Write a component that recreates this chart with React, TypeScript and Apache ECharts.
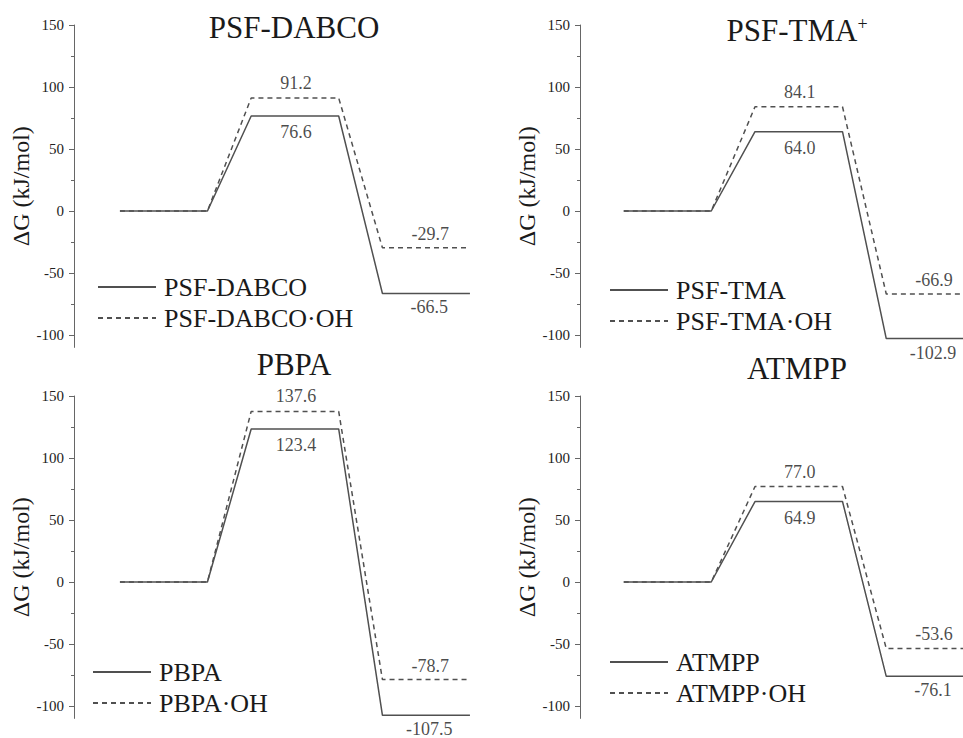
import React, { useEffect, useRef } from "react";
import * as echarts from "echarts";

// ---------- data ----------
const panelTitles = ["PSF-DABCO", "PSF-TMA{sup|+}", "PBPA", "ATMPP"];
const baseNames = ["PSF-DABCO", "PSF-TMA", "PBPA", "ATMPP"];
const ohNames = ["PSF-DABCO·OH", "PSF-TMA·OH", "PBPA·OH", "ATMPP·OH"];
const reactantLevel = [0, 0, 0, 0];
const baseTS = [76.6, 64.0, 123.4, 64.9];
const baseProduct = [-66.5, -102.9, -107.5, -76.1];
const ohTS = [91.2, 84.1, 137.6, 77.0];
const ohProduct = [-29.7, -66.9, -78.7, -53.6];
// reaction-coordinate positions of the level ends: reactant [0,2], TS [3,5], product [6,8]
const stepX = [0, 2, 3, 5, 6, 8];
const levelCentre = [4, 7];
const majorTicks = [-100, -50, 0, 50, 100, 150];
const minorTicks = [-75, -25, 25, 75, 125];
const yMin = -110;
const yMax = 150;

// ---------- layout ----------
const FONT = "Liberation Serif";
const PX_PER_UNIT = 43.75;
const PLOT_H = 322.4;
const layout = [
  { left: 74, top: 25, xMin: -1.05, xMax: 8.2, titleX: 294, titleY: 12, legLeft: 97, legTop: 274 },
  { left: 580, top: 25, xMin: -1.0, xMax: 7.754, titleX: 797, titleY: 15, legLeft: 609, legTop: 277 },
  { left: 74, top: 396, xMin: -1.05, xMax: 8.2, titleX: 294, titleY: 349, legLeft: 92, legTop: 659 },
  { left: 580, top: 396, xMin: -1.0, xMax: 7.754, titleX: 797, titleY: 353, legLeft: 609, legTop: 649 },
];
const LINE_COLOR = "#505050";
const AXIS_COLOR = "#666";
const TEXT_COLOR = "#1a1a1a";

function levels(r: number, ts: number, p: number) {
  const v = [r, r, ts, ts, p, p];
  return stepX.map((x, i) => [x, v[i]]);
}

function buildOption() {
  const grid: any[] = [];
  const xAxis: any[] = [];
  const yAxis: any[] = [];
  const series: any[] = [];
  const title: any[] = [];
  const legend: any[] = [];

  layout.forEach((l, p) => {
    grid.push({
      left: l.left,
      top: l.top,
      width: (l.xMax - l.xMin) * PX_PER_UNIT,
      height: PLOT_H,
      containLabel: false,
    });
    xAxis.push({
      type: "value",
      gridIndex: p,
      min: l.xMin,
      max: l.xMax,
      show: false,
      axisLine: { onZero: false },
    });
    yAxis.push({
      type: "value",
      gridIndex: p,
      position: "left",
      min: yMin,
      max: yMax,
      axisLine: { show: true, onZero: false, lineStyle: { color: AXIS_COLOR, width: 1 } },
      axisTick: { show: true, length: 5, customValues: majorTicks, lineStyle: { color: AXIS_COLOR, width: 1 } },
      axisLabel: { customValues: majorTicks, fontSize: 15, color: "#222", margin: 10, fontFamily: FONT },
      splitLine: { show: false },
      name: "ΔG (kJ/mol)",
      nameLocation: "middle",
      nameGap: 38,
      nameTextStyle: { fontSize: 24, color: TEXT_COLOR, fontFamily: FONT },
    });
    yAxis.push({
      type: "value",
      gridIndex: p,
      position: "left",
      min: yMin,
      max: yMax,
      axisLine: { show: false, onZero: false },
      axisTick: { show: true, length: 3, customValues: minorTicks, lineStyle: { color: AXIS_COLOR, width: 1 } },
      axisLabel: { show: false },
      splitLine: { show: false },
    });

    const lineCommon = {
      type: "line",
      xAxisIndex: p,
      yAxisIndex: 2 * p,
      symbol: "none",
      silent: true,
      clip: true,
    };
    series.push({
      ...lineCommon,
      name: baseNames[p],
      data: levels(reactantLevel[p], baseTS[p], baseProduct[p]),
      lineStyle: { color: LINE_COLOR, width: 1.5, type: "solid" },
      itemStyle: { color: LINE_COLOR },
      z: 3,
    });
    series.push({
      ...lineCommon,
      name: ohNames[p],
      data: levels(reactantLevel[p], ohTS[p], ohProduct[p]),
      lineStyle: { color: LINE_COLOR, width: 1.5, type: [5, 4] },
      itemStyle: { color: LINE_COLOR },
      z: 2,
    });

    const labelFmt = (prm: any) => Number(prm.value[1]).toFixed(1);
    // value labels: OH above its levels, base below
    series.push({
      type: "scatter",
      xAxisIndex: p,
      yAxisIndex: 2 * p,
      symbolSize: 0,
      silent: true,
      data: [
        { value: [levelCentre[0], ohTS[p]], label: { distance: 6, offset: [1, 0] } },
        { value: [levelCentre[1], ohProduct[p]], label: { distance: 5, offset: [4, 0] } },
      ],
      label: {
        show: true,
        position: "top",
        formatter: labelFmt,
        fontSize: 18,
        color: TEXT_COLOR,
        fontFamily: FONT,
      },
    });
    series.push({
      type: "scatter",
      xAxisIndex: p,
      yAxisIndex: 2 * p,
      symbolSize: 0,
      silent: true,
      data: [
        { value: [levelCentre[0], baseTS[p]], label: { distance: 7, offset: [1, 0] } },
        { value: [levelCentre[1], baseProduct[p]], label: { distance: 5, offset: [3, 0] } },
      ],
      label: {
        show: true,
        position: "bottom",
        formatter: labelFmt,
        fontSize: 18,
        color: TEXT_COLOR,
        fontFamily: FONT,
      },
    });

    title.push({
      text: panelTitles[p],
      left: l.titleX,
      top: l.titleY,
      textAlign: "center",
      padding: 0,
      textStyle: {
        fontSize: 31,
        fontWeight: "normal",
        color: TEXT_COLOR,
        fontFamily: FONT,
        rich: {
          sup: { fontSize: 18, lineHeight: 10, verticalAlign: "top", color: TEXT_COLOR, fontFamily: FONT },
        },
      },
    });

    legend.push({
      orient: "vertical",
      left: l.legLeft,
      top: l.legTop,
      padding: 0,
      itemWidth: 58,
      itemHeight: 14,
      itemGap: 5,
      selectedMode: false,
      data: [baseNames[p], ohNames[p]],
      itemStyle: { opacity: 0 },
      textStyle: { fontSize: 26, lineHeight: 26, color: TEXT_COLOR, fontFamily: FONT, padding: [0, 0, 0, 3] },
    });
  });

  return {
    animation: false,
    backgroundColor: "#ffffff",
    textStyle: { fontFamily: FONT },
    title,
    legend,
    grid,
    xAxis,
    yAxis,
    series,
  };
}

export default function App() {
  const ref = useRef<HTMLDivElement>(null);
  useEffect(() => {
    const el = ref.current;
    if (!el) return;
    let cancelled = false;
    let chart = echarts.init(el, null, { renderer: "svg" });
    chart.setOption(buildOption() as any);
    // re-create the chart once the serif font is resolved, so SVG texts are laid out with it
    const rerender = () => {
      if (cancelled) return;
      chart.dispose();
      chart = echarts.init(el, null, { renderer: "svg" });
      chart.setOption(buildOption() as any);
    };
    const fonts: any = (document as any).fonts;
    const timers: any[] = [];
    if (fonts && fonts.load) {
      Promise.all([
        fonts.load('31px "Liberation Serif"'),
        fonts.load('18px "Liberation Serif"'),
      ])
        .then(() => {
          rerender();
          timers.push(setTimeout(rerender, 120));
          timers.push(setTimeout(rerender, 400));
        })
        .catch(() => {
          timers.push(setTimeout(rerender, 120));
        });
    } else {
      timers.push(setTimeout(rerender, 120));
    }
    return () => {
      cancelled = true;
      timers.forEach((t) => clearTimeout(t));
      chart.dispose();
    };
  }, []);
  return (
    <div
      ref={ref}
      style={{ position: "absolute", left: 0, top: 0, width: 963, height: 738, fontFamily: FONT }}
    />
  );
}
